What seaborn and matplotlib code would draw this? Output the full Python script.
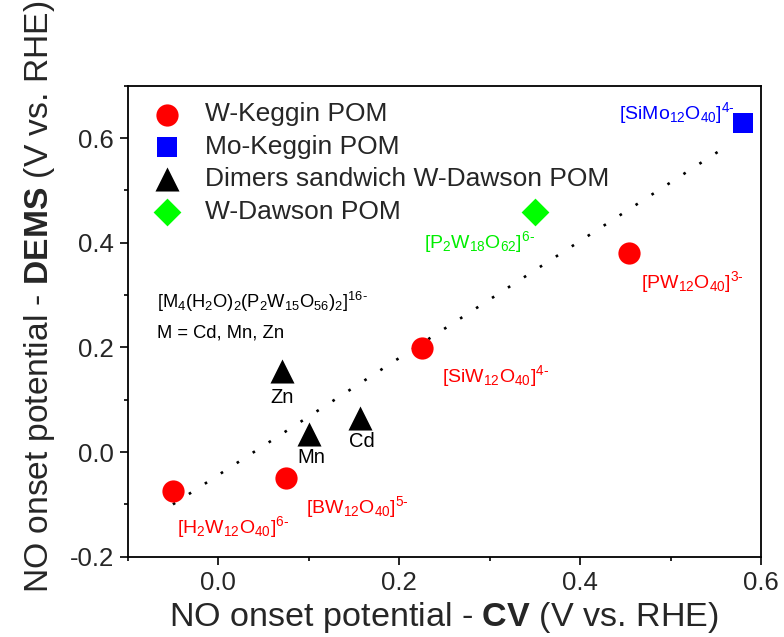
import matplotlib
matplotlib.use("Agg")
import matplotlib.pyplot as plt
import seaborn as sns
import pandas as pd
from matplotlib.ticker import MultipleLocator

# ---- data ----
w_keggin_x = [-0.05, 0.075, 0.225, 0.454]
w_keggin_y = [-0.075, -0.05, 0.198, 0.380]
w_keggin_labels = [r'$\mathregular{[H_2W_{12}O_{40}]^{6\text{-}}}$',
                   r'$\mathregular{[BW_{12}O_{40}]^{5\text{-}}}$',
                   r'$\mathregular{[SiW_{12}O_{40}]^{4\text{-}}}$',
                   r'$\mathregular{[PW_{12}O_{40}]^{3\text{-}}}$']
mo_keggin_x = [0.580]
mo_keggin_y = [0.629]
dimer_x = [0.070, 0.100, 0.157]
dimer_y = [0.155, 0.035, 0.065]
dimer_labels = ['Zn', 'Mn', 'Cd']
dawson_x = [0.350]
dawson_y = [0.459]
trend_x = [-0.05, 0.567]
trend_y = [-0.10, 0.59]

series_names = ['W-Keggin POM', 'Mo-Keggin POM',
                'Dimers sandwich W-Dawson POM', 'W-Dawson POM']

sns.set_style('ticks')
plt.rcParams['font.family'] = ['Liberation Sans', 'DejaVu Sans']
plt.rcParams['mathtext.fontset'] = 'custom'
plt.rcParams['mathtext.rm'] = 'Liberation Sans'
plt.rcParams['mathtext.it'] = 'Liberation Sans:italic'
plt.rcParams['mathtext.bf'] = 'Liberation Sans:bold'
plt.rcParams['mathtext.default'] = 'regular'

fig = plt.figure(figsize=(7.84, 6.37), dpi=100)
ax = fig.add_axes([127.7 / 784, 1 - 556.7 / 637, (761 - 127.7) / 784, (556.7 - 85.7) / 637])

# trend line
sns.lineplot(x=trend_x, y=trend_y, ax=ax, color='black', lw=1.9,
             linestyle=(0, (1, 6.2)), sort=False, estimator=None, legend=False)

groups = [
    (w_keggin_x, w_keggin_y, 'o', '#ff0000', 256, series_names[0]),
    (mo_keggin_x, mo_keggin_y, 's', '#0000ff', 210, series_names[1]),
    (dimer_x, dimer_y, '^', '#000000', 300, series_names[2]),
    (dawson_x, dawson_y, 'D', '#00ff00', 200, series_names[3]),
]
for gx, gy, mk, col, s, name in groups:
    sns.scatterplot(x=gx, y=gy, ax=ax, marker=mk, color=col, s=s,
                    edgecolor=col, linewidth=0, label=name, zorder=3)

ax.set_xlim(-0.1, 0.6)
ax.set_ylim(-0.2, 0.7)
ax.xaxis.set_major_locator(MultipleLocator(0.2))
ax.xaxis.set_minor_locator(MultipleLocator(0.1))
ax.yaxis.set_major_locator(MultipleLocator(0.2))
ax.yaxis.set_minor_locator(MultipleLocator(0.1))
ax.xaxis.set_major_formatter(matplotlib.ticker.FormatStrFormatter('%.1f'))
ax.yaxis.set_major_formatter(matplotlib.ticker.FormatStrFormatter('%.1f'))
ax.tick_params(which='major', length=6, width=1.2, labelsize=18.5, pad=4, color='black')
ax.tick_params(which='minor', length=3.2, width=1.2, color='black')
for sp in ax.spines.values():
    sp.set_visible(True)
    sp.set_linewidth(1.3)
    sp.set_color('black')

ax.set_xlabel(r'NO onset potential - $\mathbf{CV}$ (V vs. RHE)', fontsize=24.6, labelpad=4)
ax.set_ylabel(r'NO onset potential - $\mathbf{DEMS}$ (V vs. RHE)', fontsize=24.2)
ax.yaxis.set_label_coords(-0.112, 0.551)

# annotations
fs = 14
ax.text(0.4434, 0.6364, r'$\mathregular{[SiMo_{12}O_{40}]^{4\text{-}}}$', color='#0000ff', fontsize=fs, va='baseline', ha='left')
ax.text(0.2278, 0.3893, r'$\mathregular{[P_2W_{18}O_{62}]^{6\text{-}}}$', color='#00ee00', fontsize=fs, va='baseline', ha='left')
w_pos = [(-0.0452, -0.1553), (0.0967, -0.116), (0.2471, 0.1344), (0.4674, 0.3128)]
for (tx, ty), lab in zip(w_pos, w_keggin_labels):
    ax.text(tx, ty, lab, color='#ff0000', fontsize=fs, va='baseline', ha='left')
d_pos = [(0.0702, 0.0942), (0.1034, -0.0204), (0.1587, 0.009)]
for (tx, ty), lab in zip(d_pos, dimer_labels):
    ax.text(tx, ty, lab, color='black', fontsize=14.5, va='baseline', ha='center')
ax.text(-0.068, 0.2746, r'$\mathregular{[M_4(H_2O)_2(P_2W_{15}O_{56})_2]^{16\text{-}}}$', color='black', fontsize=13.2, va='baseline', ha='left')
ax.text(-0.068, 0.2198, 'M = Cd, Mn, Zn', color='black', fontsize=13.2, va='baseline', ha='left')

leg = ax.legend(loc='upper left', bbox_to_anchor=(151.5 / 784, 1 - 102.5 / 637),
                bbox_transform=fig.transFigure, frameon=False, fontsize=19,
                handlelength=1.2, handletextpad=0.82, labelspacing=0.32,
                borderpad=0, borderaxespad=0, markerscale=1.0)

fig.savefig('out.png', dpi=100)
